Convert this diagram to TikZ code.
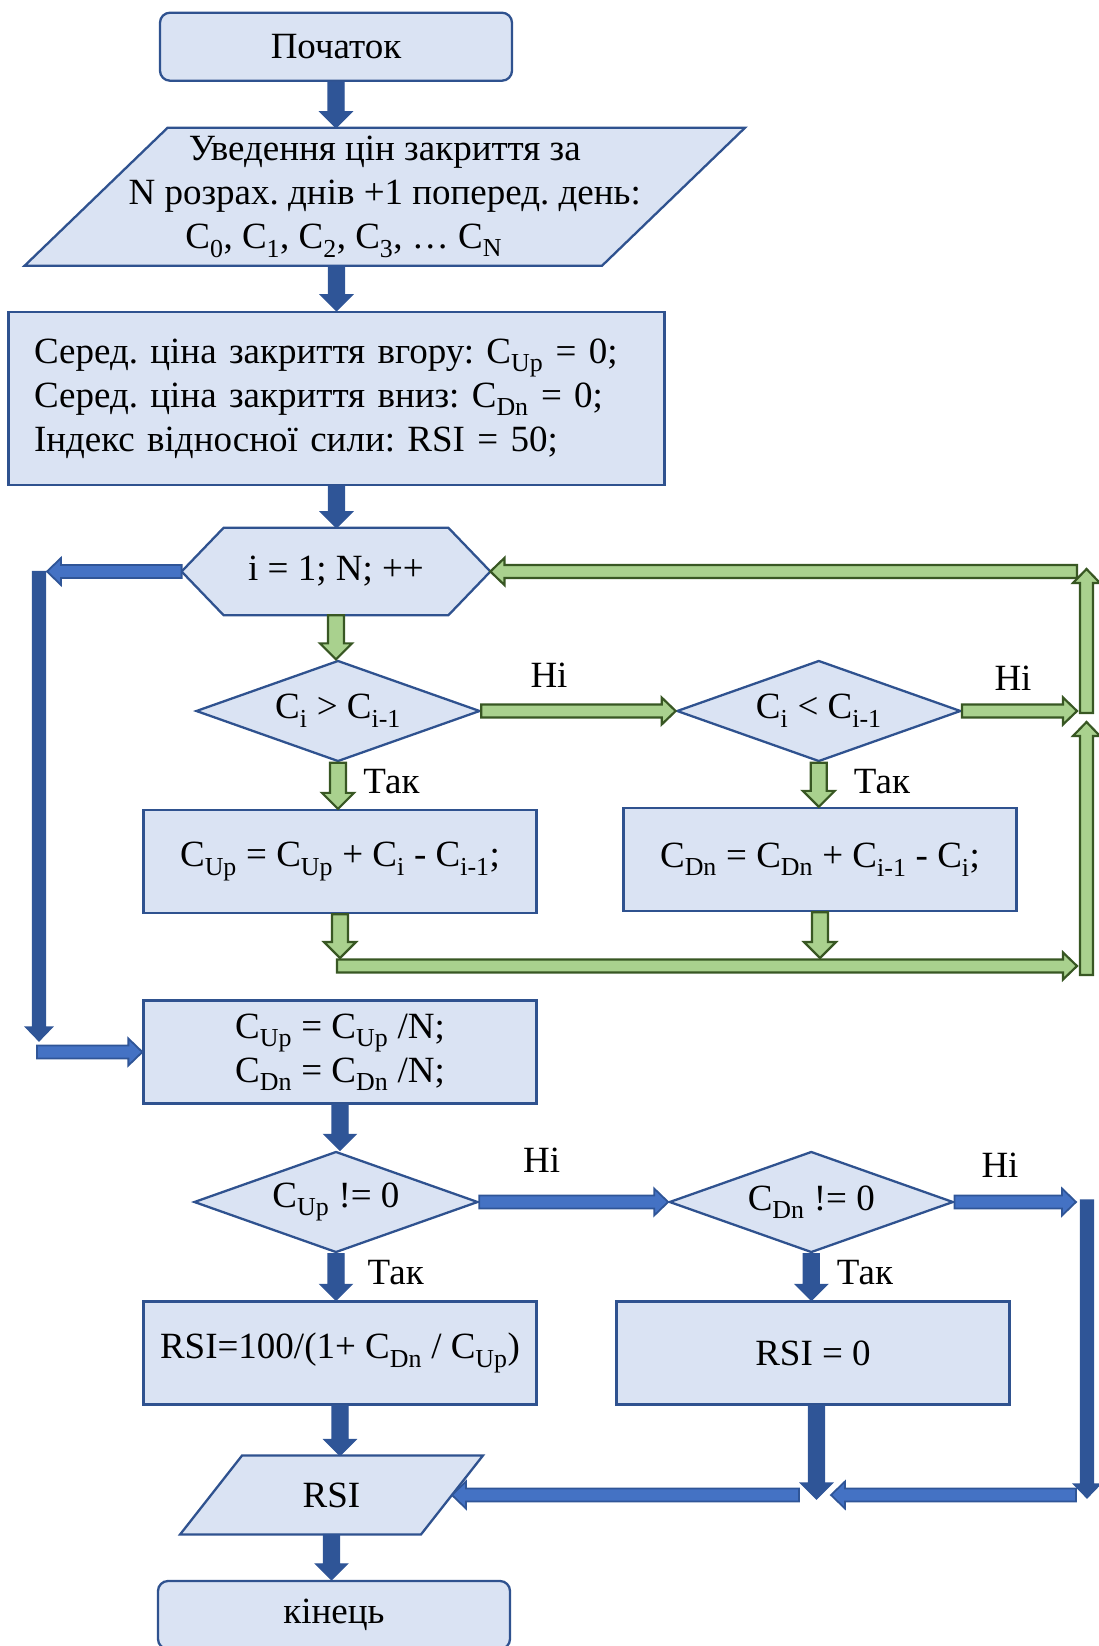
\documentclass[tikz,border=0pt]{standalone}
\usepackage{fontspec}
\setmainfont{Liberation Serif}
\usetikzlibrary{shapes.geometric,calc,backgrounds}
\definecolor{boxfill}{RGB}{218,227,243}
\definecolor{boxline}{RGB}{47,82,143}
\definecolor{darkblue}{RGB}{47,85,151}
\definecolor{midblue}{RGB}{68,114,196}
\definecolor{lightgreen}{RGB}{169,209,142}
\definecolor{darkgreen}{RGB}{56,87,35}
\newcommand{\lo}[1]{\textsubscript{#1}}
\newcommand{\blockarr}[6]{%
  \coordinate (ba-s) at #5;
  \coordinate (ba-e) at #6;
  \coordinate (ba-h) at ($(ba-e)!#4!(ba-s)$);
  \draw[#1] ($(ba-s)!#2!90:(ba-e)$) -- ($(ba-h)!#2!90:(ba-e)$) -- ($(ba-h)!#3!90:(ba-e)$) -- (ba-e)
    -- ($(ba-h)!#3!-90:(ba-e)$) -- ($(ba-h)!#2!-90:(ba-e)$) -- ($(ba-s)!#2!-90:(ba-e)$) -- cycle;}
\newcommand{\fatarr}[3]{\blockarr{#1}{8pt}{16pt}{16pt}{#2}{#3}}
\newcommand{\thinarr}[3]{\blockarr{#1}{6.5pt}{13.5pt}{14pt}{#2}{#3}}
\frenchspacing

\begin{document}
\begin{tikzpicture}[x=1pt,y=-1pt,every node/.style={font=\fontsize{37}{44}\selectfont},
  box/.style={draw=boxline,fill=boxfill,line width=2.3pt,inner sep=0pt},
  termbox/.style={box,rounded corners=10pt,minimum width=352pt,minimum height=68pt},
  procbox/.style={box,minimum width=393pt,minimum height=103pt},
  decision/.style={box,diamond,aspect=2.8,minimum width=284pt,minimum height=101pt},
  plainbox/.style={inner sep=0pt},
  shapeline/.style={draw=boxline,fill=boxfill,line width=2.3pt},
  bluev/.style={fill=darkblue,draw=darkblue,line width=1.2pt},
  blueh/.style={fill=midblue,draw=darkblue,line width=1.8pt},
  greenarr/.style={fill=lightgreen,draw=darkgreen,line width=2.2pt}]
\useasboundingbox (0,0) rectangle (1098,1646);
\node[termbox] (start) at (336,46.7) {Початок};
\node[plainbox,minimum width=577pt,minimum height=137.6pt,align=center] (input) at (384.75,196.8) {Уведення цін закриття за\\N розрах. днів +1 поперед. день:\\C\lo{0}, C\lo{1}, C\lo{2}, C\lo{3}, … C\lo{N}\hspace*{82pt}};
\node[box,minimum width=656pt,minimum height=173pt,text width=605pt,inner xsep=25.5pt,align=left] (init) at (336.5,398.4) {Серед. ціна закриття вгору: C\lo{Up} = 0;\\Серед. ціна закриття вниз: C\lo{Dn} = 0;\\Індекс відносної сили: RSI = 50;};
\node[plainbox,minimum width=308.4pt,minimum height=87pt] (loop) at (336,571.5) {i = 1; N; ++};
\node[decision] (d1) at (338,711) {C\lo{i} > C\lo{i-1}};
\node[decision] (d2) at (818.8,711) {C\lo{i} < C\lo{i-1}};
\node[procbox] (r1) at (340,861.5) {C\lo{Up} = C\lo{Up} + C\lo{i} - C\lo{i-1};};
\node[procbox] (r2) at (820,859.5) {C\lo{Dn} = C\lo{Dn} + C\lo{i-1} - C\lo{i};};
\node[procbox,align=center] (r3) at (340,1052) {C\lo{Up} = C\lo{Up} /N;\\C\lo{Dn} = C\lo{Dn} /N;};
\node[decision] (d3) at (336,1202) {C\lo{Up} != 0};
\node[decision] (d4) at (811.3,1202) {C\lo{Dn} != 0};
\node[procbox] (r4) at (340,1353) {RSI=100/(1+ C\lo{Dn} / C\lo{Up})};
\node[procbox] (r5) at (813,1353) {RSI = 0};
\node[plainbox,minimum width=240.5pt,minimum height=78.6pt] (outp) at (331.5,1495) {RSI};
\node[termbox] (stop) at (334,1615) {кінець};
\begin{scope}[on background layer]
\draw[shapeline] (loop.west) -- ([xshift=42pt]loop.north west) -- ([xshift=-42pt]loop.north east) -- (loop.east) -- ([xshift=-42pt]loop.south east) -- ([xshift=42pt]loop.south west) -- cycle;
\draw[shapeline] ([xshift=-71.5pt]input.south west) -- ([xshift=71.5pt]input.north west) -- ([xshift=71.5pt]input.north east) -- ([xshift=-71.5pt]input.south east) -- cycle;
\draw[shapeline] ([xshift=-31pt]outp.south west) -- ([xshift=31pt]outp.north west) -- ([xshift=31pt]outp.north east) -- ([xshift=-31pt]outp.south east) -- cycle;
\end{scope}
\coordinate (cl1) at (47,571.5);
\coordinate (cl2) at (39,571.5);
\coordinate (cl3) at (39,1041);
\coordinate (cl4) at (37,1052);
\coordinate (cr1) at (1077,711);
\coordinate (cr2) at (1086.5,975);
\coordinate (cr3) at (1086.5,722);
\coordinate (cr4) at (1086.5,713);
\coordinate (cr5) at (1086.5,569);
\coordinate (cr6) at (1077,571.5);
\coordinate (cg1) at (337,966);
\coordinate (cg2) at (1077,966);
\coordinate (cg3) at (337,958);
\coordinate (cb1) at (1076,1202);
\coordinate (cb2) at (1087,1200);
\coordinate (cb3) at (1087,1498);
\coordinate (cb4) at (1076,1495);
\coordinate (cb5) at (831,1495);
\coordinate (cb6) at (816.5,1499);
\coordinate (cb7) at (799,1495);
\fatarr{bluev}{(start.south)}{(start.south |- input.north)}
\fatarr{bluev}{(init.north |- input.south)}{(init.north)}
\fatarr{bluev}{(init.south)}{(init.south |- loop.north)}
\thinarr{blueh}{(loop.west)}{(cl1)}
\thinarr{bluev}{(cl2)}{(cl3)}
\thinarr{blueh}{(cl4)}{(r3.west)}
\fatarr{greenarr}{(loop.south)}{(loop.south |- d1.north)}
\thinarr{greenarr}{(d1.east)}{(d2.west)}
\fatarr{greenarr}{(d1.south)}{(d1.south |- r1.north)}
\thinarr{greenarr}{(d2.east)}{(cr1)}
\fatarr{greenarr}{(d2.south)}{(d2.south |- r2.north)}
\thinarr{greenarr}{(cg1)}{(cg2)}
\fatarr{greenarr}{(r1.south)}{(r1.south |- cg3)}
\fatarr{greenarr}{(r2.south)}{(r2.south |- cg3)}
\thinarr{greenarr}{(cr2)}{(cr3)}
\thinarr{greenarr}{(cr4)}{(cr5)}
\thinarr{greenarr}{(cr6)}{(loop.east)}
\fatarr{bluev}{(r3.south)}{(r3.south |- d3.north)}
\thinarr{blueh}{(d3.east)}{(d4.west)}
\fatarr{bluev}{(d3.south)}{(d3.south |- r4.north)}
\thinarr{blueh}{(d4.east)}{(cb1)}
\fatarr{bluev}{(d4.south)}{(d4.south |- r5.north)}
\thinarr{bluev}{(cb2)}{(cb3)}
\thinarr{blueh}{(cb4)}{(cb5)}
\fatarr{bluev}{(r5.south -| cb6)}{(cb6)}
\thinarr{blueh}{(cb7)}{(outp.east)}
\fatarr{bluev}{(r4.south)}{(r4.south |- outp.north)}
\fatarr{bluev}{(outp.south)}{(outp.south |- stop.north)}
\node (no1) at (549,675) {Ні};
\node (yes1) at (391.5,782) {Так};
\node (no2) at (1013,678) {Ні};
\node (yes2) at (882,782) {Так};
\node (no3) at (541.6,1160) {Ні};
\node (yes3) at (395.7,1273) {Так};
\node (no4) at (1000,1165) {Ні};
\node (yes4) at (865,1273) {Так};
\end{tikzpicture}
\end{document}
